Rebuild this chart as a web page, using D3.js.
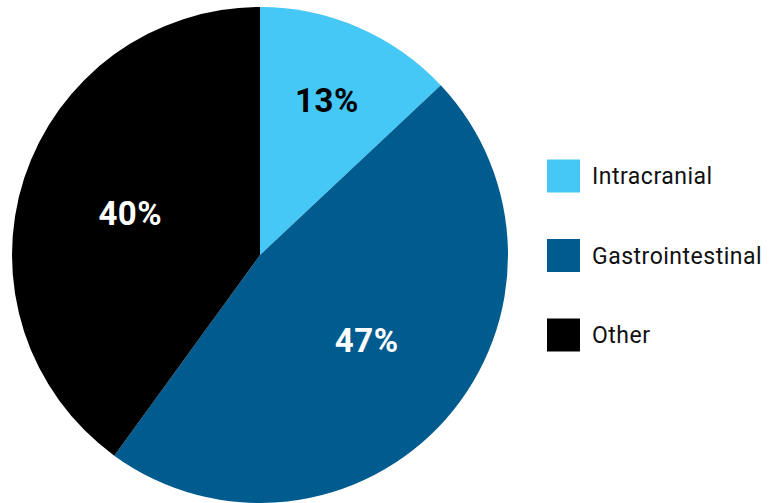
<!DOCTYPE html>
<html><head><meta charset="utf-8">
<script src="https://cdn.jsdelivr.net/npm/d3@7"></script>
<style>html,body{margin:0;padding:0;background:#fff;}svg{display:block;}</style>
</head><body>
<svg id="chart" width="773" height="503"></svg>
<script>
const categories = ["Intracranial", "Gastrointestinal", "Other"];
const values = [13, 47, 40];
const labels = ["13%", "47%", "40%"];
const colors = ["#45C8F5", "#005B8E", "#000000"];
const labelColors = ["#000000", "#ffffff", "#ffffff"];

const svg = d3.select("#chart");
const cx = 260, cy = 255, R = 248;
const font = "Roboto, 'DejaVu Sans', sans-serif";

const pie = d3.pie().sort(null).value(d => d.v);
const data = pie(categories.map((c, i) => ({c, v: values[i], i})));
const arc = d3.arc().innerRadius(0).outerRadius(R);

const g = svg.append("g").attr("transform", `translate(${cx},${cy})`);
g.selectAll("path").data(data).enter().append("path")
  .attr("d", arc).attr("fill", d => colors[d.data.i]);

g.selectAll("text").data(data).enter().append("text")
  .attr("transform", d => {
    const r = d.data.v < 20 ? R * 0.68 : R * 0.55;
    const mid = (d.startAngle + d.endAngle) / 2 - (d.data.v > 45 ? 0.05 : 0);
    const x = Math.sin(mid) * r, y = -Math.cos(mid) * r;
    return `translate(${x},${y})`;
  })
  .attr("text-anchor", "middle").attr("dy", "0.36em")
  .attr("font-family", font).attr("font-weight", "bold").attr("font-size", 33)
  .attr("letter-spacing", 0.5)
  .attr("fill", d => labelColors[d.data.i])
  .text(d => labels[d.data.i]);

const legY = d3.scalePoint().domain(categories).range([176, 335]);
const leg = svg.append("g");
categories.forEach((c, i) => {
  const y = legY(c);
  leg.append("rect").attr("x", 547).attr("y", y - 16.5).attr("width", 33).attr("height", 33)
    .attr("fill", colors[i]);
  leg.append("text").attr("x", 592).attr("y", y).attr("dy", "0.36em")
    .attr("font-family", font).attr("font-size", 23).attr("letter-spacing", 0.5).attr("fill", "#111")
    .text(c);
});
</script>
</body></html>
